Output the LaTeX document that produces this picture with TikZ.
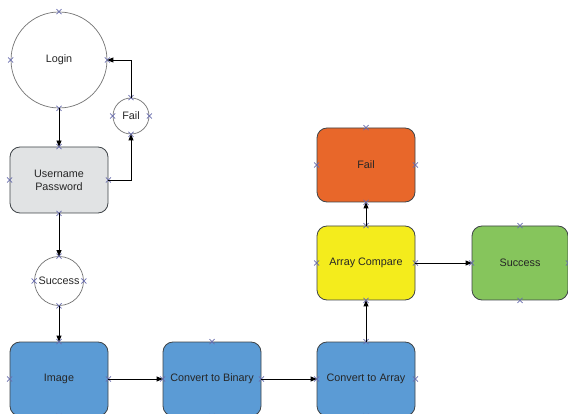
\documentclass[tikz,border=0pt]{standalone}
\usepackage{fontspec}
\setmainfont{Liberation Sans}
\usetikzlibrary{arrows.meta,positioning,shapes.misc}
\definecolor{BoxGrey}{HTML}{E1E3E4}
\definecolor{BoxBlue}{HTML}{5B9BD5}
\definecolor{BoxOrange}{HTML}{E8672A}
\definecolor{BoxYellow}{HTML}{F4EC1C}
\definecolor{BoxGreen}{HTML}{86C55C}
\definecolor{Edge}{HTML}{3F4448}
\definecolor{Pin}{HTML}{6A6EAE}
% small crosses on the four connection points of a shape
\newcommand{\pinmarks}[1]{\foreach \a in {north,south,east,west}{\node[pinx] at (#1.\a) {};}}

\begin{document}
\begin{tikzpicture}[x=1pt,y=-1pt,font=\fontsize{10.8}{13}\selectfont,
  box/.style={draw=Edge,line width=.8pt,rounded corners=10pt,minimum width=98pt,minimum height=74pt,text=black!85},
  ring/.style={circle,draw=black!55,line width=.7pt,fill=white,inner sep=0pt,text=black!85},
  flow/.style={-{Triangle[length=6pt,width=5pt]},line width=.8pt},
  pinx/.style={cross out,draw=Pin,line width=.6pt,minimum size=4.5pt,inner sep=0pt}]
\useasboundingbox (0,0) rectangle (568,414);
\clip (0,0) rectangle (568,414);

% login part
\node[ring,minimum size=96pt] (login) at (59,60) {Login};
\node[ring,minimum size=36pt] (failc) at (131,116) {Fail};
\node[box,fill=BoxGrey,minimum height=66pt,align=center] (user) at (59,180) {Username\\Password};
\node[ring,minimum size=49pt] (succ) at (59,281) {Success};

% image processing
\node[box,fill=BoxBlue] (image) at (59,379) {Image};
\node[box,fill=BoxBlue] (binary) at (212,379) {Convert to Binary};
\node[box,fill=BoxBlue] (array) at (366,379) {Convert to Array};
\node[box,fill=BoxYellow] (compare) at (366,263) {Array Compare};
\node[box,fill=BoxOrange] (failb) at (366,165) {Fail};
\node[box,fill=BoxGreen,minimum width=96pt] (success) at (520,263) {Success};

\foreach \n in {login,failc,user,succ,image,binary,array,compare,failb,success}{\pinmarks{\n}}

\draw[flow] (login.south) -- (user.north);
\draw[flow] (user.east) -| (failc.south);
\draw[flow] (failc.north) |- (login.east);
\draw[flow] (user.south) -- (succ.north);
\draw[flow] (succ.south) -- (image.north);
\draw[flow] (image.east) -- (binary.west);
\draw[flow] (binary.east) -- (array.west);
\draw[flow] (array.north) -- (compare.south);
\draw[flow] (compare.north) -- (failb.south);
\draw[flow] (compare.east) -- (success.west);
\end{tikzpicture}
\end{document}
